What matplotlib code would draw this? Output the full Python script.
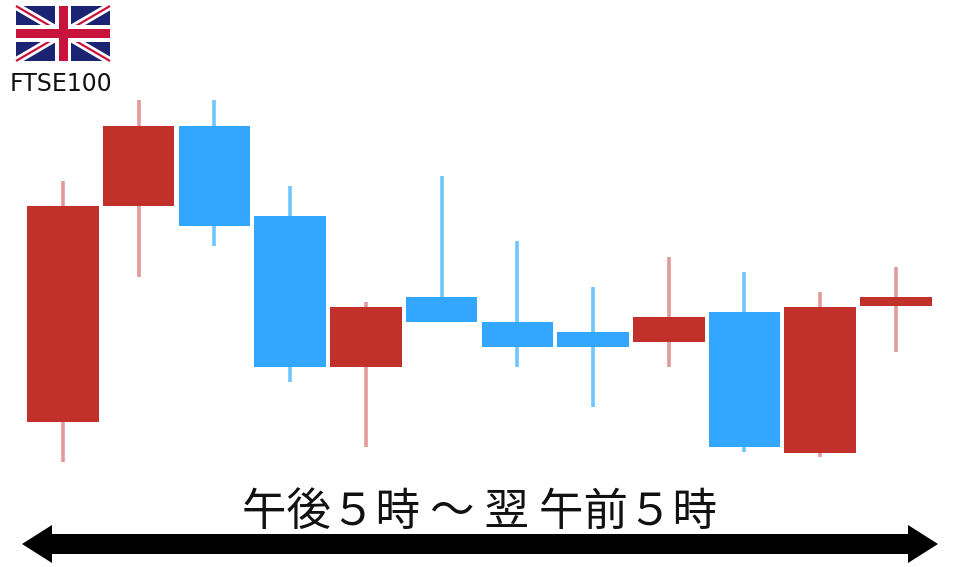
import matplotlib
matplotlib.use("Agg")
import matplotlib.pyplot as plt
from matplotlib.patches import Rectangle, Polygon

plt.rcParams['font.family'] = ['Noto Sans CJK JP', 'DejaVu Sans']

W, H = 960, 567
# values are read as chart height, measured upward from the picture's bottom
opens  = [145, 361, 341, 351, 200, 245, 220, 220, 225, 120, 114, 261]
closes = [361, 441, 441, 200, 260, 270, 245, 235, 250, 255, 260, 270]
highs  = [386, 467, 467, 381, 265, 391, 326, 280, 310, 295, 275, 300]
lows   = [105, 290, 321, 185, 120, 245, 200, 160, 200, 115, 110, 215]
rising = [True, True, False, False, True, False, False, False, True, False, True, True]
title = "FTSE100"
span_label = "午後５時 ～ 翌 午前５時"

UP = "#c2302b"; DOWN = "#33a6ff"
UPW = "#e39a9a"; DOWNW = "#70c6ff"

fig = plt.figure(figsize=(W/100, H/100), dpi=100, facecolor="white")
ax = fig.add_axes([0, 0, 1, 1])
ax.set_xlim(0, W); ax.set_ylim(0, H); ax.axis("off")

x0, step, bw = 63, 75.72, 71.5
for i, (o, c, h, l, r) in enumerate(zip(opens, closes, highs, lows, rising)):
    x = x0 + i*step
    ax.plot([x, x], [l, h], color=UPW if r else DOWNW, lw=2.6, solid_capstyle="butt", zorder=1)
    ax.add_patch(Rectangle((x-bw/2, o), bw, c-o, facecolor=UP if r else DOWN, edgecolor="none", zorder=2))

# Flag
fx0, fx1, fy0, fy1 = 16, 110, 506, 561
ax.add_patch(Rectangle((fx0, fy0), fx1-fx0, fy1-fy0, facecolor="#1b2473", edgecolor="none", zorder=3))
clip = Rectangle((fx0, fy0), fx1-fx0, fy1-fy0, transform=ax.transData)
for (a, b) in [((fx0, fy0), (fx1, fy1)), ((fx0, fy1), (fx1, fy0))]:
    ax.plot([a[0], b[0]], [a[1], b[1]], color="white", lw=5.5, zorder=4, clip_path=clip, solid_capstyle="butt")
    ax.plot([a[0], b[0]], [a[1], b[1]], color="#c8143c", lw=1.6, zorder=5, clip_path=clip, solid_capstyle="butt")
xm, ym = (fx0+fx1)/2, (fy0+fy1)/2
ax.add_patch(Rectangle((xm-8, fy0), 16, fy1-fy0, facecolor="white", edgecolor="none", zorder=6))
ax.add_patch(Rectangle((fx0, ym-8.5), fx1-fx0, 17, facecolor="white", edgecolor="none", zorder=6))
ax.add_patch(Rectangle((xm-4.5, fy0), 9, fy1-fy0, facecolor="#c8143c", edgecolor="none", zorder=7))
ax.add_patch(Rectangle((fx0, ym-4.8), fx1-fx0, 9.6, facecolor="#c8143c", edgecolor="none", zorder=7))

ax.text(61, 483, title, ha="center", va="center", fontsize=17, color="#111111", family="DejaVu Sans")
ax.text(480, 55, span_label, ha="center", va="center", fontsize=32, color="#111111")

# Double arrow
ax.add_patch(Rectangle((50, 13), 860, 20, facecolor="black", edgecolor="none"))
ax.add_patch(Polygon([(22, 23), (52, 4), (52, 42)], closed=True, facecolor="black", edgecolor="none"))
ax.add_patch(Polygon([(938, 23), (908, 4), (908, 42)], closed=True, facecolor="black", edgecolor="none"))

fig.savefig("out.png", dpi=100)
